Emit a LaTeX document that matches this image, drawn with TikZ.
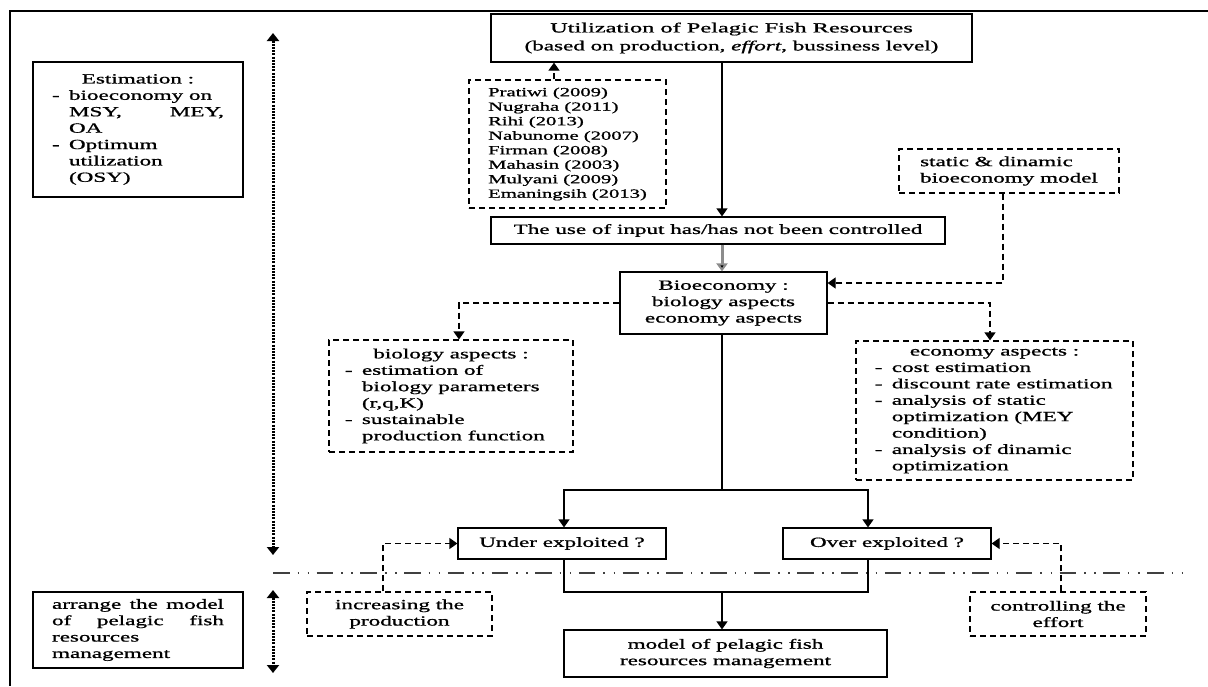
\documentclass[tikz,border=0pt]{standalone}
\usepackage{fontspec}
\usepackage{graphicx}
\setmainfont[FakeBold=0.8]{Liberation Serif}
\usetikzlibrary{arrows.meta}
\newcommand{\sx}{1.65}
\newcommand{\SX}[1]{\scalebox{\sx}[1]{#1}}
\newcommand{\SXT}[1]{\scalebox{1.74}[1]{#1}}
\newcommand{\bl}{\makebox[10.3pt][l]{-}}
\newcommand{\ind}{\hspace*{10.3pt}}
\tikzset{
  box/.style={draw, line width=1.2pt, inner sep=0pt, align=center, font=\fontsize{14}{16.4}\selectfont},
  dbox/.style={box, dash pattern=on 6pt off 4pt},
  conn/.style={line width=1.2pt, -{Triangle[width=11pt,length=8pt]}},
  dconn/.style={conn, dash pattern=on 6pt off 4pt},
  dotarrow/.style={line width=3pt, dash pattern=on 2pt off 1.2pt, {Triangle[width=12pt,length=8pt]}-{Triangle[width=12pt,length=8pt]}},
  sep/.style={line width=1.6pt, draw=black!75, dash pattern=on 16.5pt off 8pt on 1.6pt off 8.5pt on 1.6pt off 7.5pt}
}
\begin{document}
\begin{tikzpicture}[x=1pt,y=-1pt]
\useasboundingbox (0,0) rectangle (1208,686);
% frame
\draw[line width=2pt] (1208,11) -- (10,11) -- (10,686);
% axes
\coordinate (ax) at (722,0);
% separator
\coordinate (sepL) at (273,573);
\coordinate (sepR) at (1185,573);
\draw[sep] (sepL) -- (sepR);
% dotted arrows
\coordinate (d1a) at (273,33);
\coordinate (d1b) at (273,555);
\coordinate (d2a) at (273,590);
\coordinate (d2b) at (273,673);
\draw[dotarrow] (d1a) -- (d1b);
\draw[dotarrow] (d2a) -- (d2b);

% nodes
\node[box, minimum width=210pt, minimum height=135pt, align=left] (est) at (138,129.5)
{\SX{\makebox[104.2pt]{Estimation :}}\\
\SX{\bl bioeconomy on}\\
\SX{\ind\makebox[93.9pt][s]{MSY, MEY,}}\\
\SX{\ind OA}\\
\SX{\bl Optimum}\\
\SX{\ind utilization}\\
\SX{\ind (OSY)}};

\node[box, minimum width=481pt, minimum height=48pt, font=\fontsize{14}{18}\selectfont] (util) at (731.5,38)
{\SXT{Utilization of Pelagic Fish Resources}\\\SX{(based on production, \textit{effort}, bussiness level)}};

\node[dbox, minimum width=197pt, minimum height=128pt, align=left, font=\fontsize{12.5}{14.5}\selectfont] (refs) at (567.5,144)
{\SX{Pratiwi (2009)}\\\SX{Nugraha (2011)}\\\SX{Rihi (2013)}\\\SX{Nabunome (2007)}\\\SX{Firman (2008)}\\\SX{Mahasin (2003)}\\\SX{Mulyani (2009)}\\\SX{Emaningsih (2013)}};

\node[box, minimum width=454pt, minimum height=27pt] (input) at (718,230.5)
{\SX{The use of input has/has not been controlled}};

\node[dbox, minimum width=220pt, minimum height=44pt, align=left] (static) at (1009,171)
{\SX{static \& dinamic}\\\SX{bioeconomy model}};

\node[box, minimum width=207pt, minimum height=62pt] (bio) at (723.5,303)
{\SX{Bioeconomy :}\\\SX{biology aspects}\\\SX{economy aspects}};

\node[dbox, minimum width=244pt, minimum height=112pt, align=left] (biol) at (451,396)
{\SX{\makebox[128.5pt]{biology aspects :}}\\
\SX{\bl estimation of}\\
\SX{\ind biology parameters}\\
\SX{\ind (r,q,K)}\\
\SX{\bl sustainable}\\
\SX{\ind production function}};

\node[dbox, minimum width=277pt, minimum height=139pt, align=left] (econ) at (994.5,410.5)
{\SX{\makebox[145pt]{economy aspects :}}\\
\SX{\bl cost estimation}\\
\SX{\bl discount rate estimation}\\
\SX{\bl analysis of static}\\
\SX{\ind optimization (MEY}\\
\SX{\ind condition)}\\
\SX{\bl analysis of dinamic}\\
\SX{\ind optimization}};

\node[box, minimum width=208pt, minimum height=31pt] (under) at (562,543.5) {\SX{Under exploited ?}};
\node[box, minimum width=208pt, minimum height=31pt] (over) at (887,543.5) {\SX{Over exploited ?}};

\node[dbox, minimum width=185pt, minimum height=44pt] (incr) at (399.5,614) {\SX{increasing the}\\\SX{production}};
\node[dbox, minimum width=176pt, minimum height=44pt] (ctrl) at (1058,614) {\SX{controlling the}\\\SX{effort}};

\node[box, minimum width=210pt, minimum height=76pt, align=left] (arr) at (138,630)
{\SX{\makebox[104.2pt][s]{arrange the model}}\\
\SX{\makebox[104.2pt][s]{of pelagic fish}}\\
\SX{resources}\\
\SX{management}};

\node[box, minimum width=323pt, minimum height=47pt] (model) at (725.5,653.5)
{\SX{model of pelagic fish}\\\SX{resources management}};

% connectors
\draw[conn] (util.south -| ax) -- (input.north -| ax);
\coordinate (rx) at (554,0);
\draw[dconn] (refs.north -| rx) -- (util.south -| rx);
\draw[line width=3pt, draw=black!45, -{Triangle[width=11pt,length=8pt,fill=black]}] (input.south -| ax) -- (bio.north -| ax);

\coordinate (sx) at (1003,283);
\draw[dconn] (static.south -| sx) -- (sx) -- (bio.east |- sx);

\coordinate (bl) at (459,303);
\coordinate (br) at (990,303);
\draw[dconn] (bio.west |- bl) -- (bl) -- (biol.north -| bl);
\draw[dconn] (bio.east |- br) -- (br) -- (econ.north -| br);

\coordinate (spl) at (722,490);
\coordinate (ul) at (564,490);
\coordinate (ur) at (868,490);
\draw[line width=1.2pt] (bio.south -| ax) -- (spl);
\draw[conn] (spl) -- (ul) -- (under.north -| ul);
\draw[conn] (spl) -- (ur) -- (over.north -| ur);

\coordinate (jl) at (564,592);
\coordinate (jr) at (868,592);
\coordinate (jm) at (722,592);
\draw[line width=1.2pt] (under.south -| jl) -- (jl) -- (jr) -- (over.south -| jr);
\draw[conn] (jm) -- (model.north -| jm);

\coordinate (ix) at (383,543.5);
\coordinate (cx) at (1061,543.5);
\draw[dconn] (incr.north -| ix) -- (ix) -- (under.west);
\draw[dconn] (ctrl.north -| cx) -- (cx) -- (over.east);
\end{tikzpicture}
\end{document}
